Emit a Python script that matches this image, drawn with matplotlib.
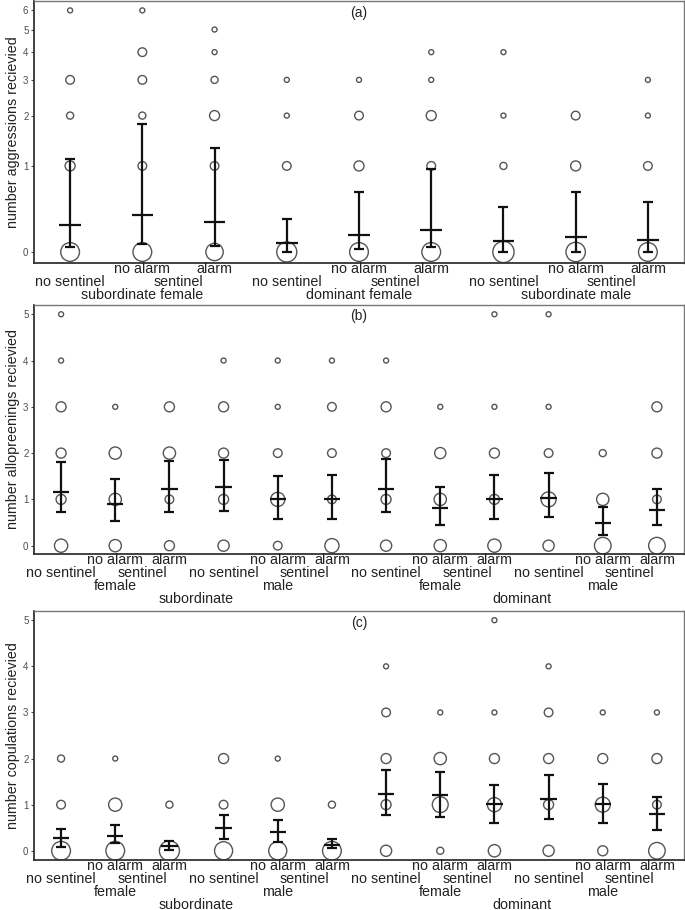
import matplotlib.pyplot as plt
import numpy as np

plt.rcParams['font.family'] = ['Liberation Sans', 'DejaVu Sans']

# (a) aggressions received: 3 classes x (no sentinel, sentinel/no alarm, sentinel/alarm)
agg_classes = ["subordinate female", "dominant female", "subordinate male"]
agg_vals = [[0, 1, 2, 3, 6], [0, 1, 2, 3, 4, 6], [0, 1, 2, 3, 4, 5],
            [0, 1, 2, 3], [0, 1, 2, 3], [0, 1, 2, 3, 4],
            [0, 1, 2, 4], [0, 1, 2], [0, 1, 2, 3]]
agg_counts = [[14, 4, 2, 3, 1], [14, 3, 2, 3, 3, 1], [12, 3, 4, 2, 1, 1],
              [16, 3, 1, 1], [14, 4, 3, 1], [14, 3, 4, 1, 1],
              [18, 2, 1, 1], [15, 4, 3], [14, 3, 1, 1]]
agg_mean = [0.243, 0.347, 0.277, 0.078, 0.144, 0.194, 0.095, 0.126, 0.104]
agg_lo = [0.045, 0.067, 0.052, 0.003, 0.022, 0.039, 0.0, 0.003, 0.0]
agg_hi = [1.11, 1.80, 1.31, 0.305, 0.626, 0.957, 0.44, 0.626, 0.50]

# (b) allopreenings received: subordinate/dominant x female/male x treatment
sex_labels = ["female", "male", "female", "male"]
rank_labels = ["subordinate", "dominant"]
pre_vals = [[0, 1, 2, 3, 4, 5], [0, 1, 2, 3], [0, 1, 2, 3],
            [0, 1, 2, 3, 4], [0, 1, 2, 3, 4], [0, 1, 2, 3, 4],
            [0, 1, 2, 3, 4], [0, 1, 2, 3], [0, 1, 2, 3, 5],
            [0, 1, 2, 3, 5], [0, 1, 2], [0, 1, 2, 3]]
pre_counts = [[7, 4, 4, 4, 1, 1], [6, 6, 6, 1], [4, 3, 6, 4],
              [5, 4, 4, 4, 1], [3, 8, 3, 1, 1], [8, 3, 3, 3, 1],
              [5, 4, 3, 4, 1], [6, 6, 5, 1], [7, 4, 4, 1, 1],
              [5, 9, 3, 1, 1], [11, 6, 2], [11, 3, 4, 4]]
pre_mean = [1.17, 0.91, 1.22, 1.26, 1.00, 1.01, 1.22, 0.81, 1.01, 1.02, 0.48, 0.78]
pre_lo = [0.73, 0.53, 0.73, 0.74, 0.58, 0.58, 0.72, 0.44, 0.58, 0.62, 0.22, 0.44]
pre_hi = [1.81, 1.45, 1.84, 1.86, 1.50, 1.52, 1.88, 1.27, 1.52, 1.56, 0.83, 1.23]

# (c) copulations received
cop_vals = [[0, 1, 2], [0, 1, 2], [0, 1],
            [0, 1, 2], [0, 1, 2], [0, 1],
            [0, 1, 2, 3, 4], [0, 1, 2, 3], [0, 1, 2, 3, 5],
            [0, 1, 2, 3, 4], [0, 1, 2, 3], [0, 1, 2, 3]]
cop_counts = [[14, 3, 2], [14, 7, 1], [16, 2],
              [13, 3, 4], [13, 7, 1], [14, 2],
              [5, 4, 4, 3, 1], [2, 10, 6, 1], [6, 8, 4, 1, 1],
              [5, 4, 4, 3, 1], [4, 9, 4, 1], [11, 3, 4, 1]]
cop_mean = [0.27, 0.33, 0.11, 0.50, 0.40, 0.13, 1.23, 1.20, 1.02, 1.13, 1.02, 0.79]
cop_lo = [0.09, 0.16, 0.01, 0.26, 0.18, 0.05, 0.77, 0.74, 0.61, 0.69, 0.61, 0.46]
cop_hi = [0.48, 0.56, 0.22, 0.77, 0.67, 0.26, 1.76, 1.71, 1.42, 1.65, 1.45, 1.16]

TXT = '#222222'


def draw_panel(ax, vals, counts, mean, lo, hi):
    x = np.arange(1, len(vals) + 1)
    mean = np.array(mean)
    for xi, v, n in zip(x, vals, counts):
        ax.scatter(np.full(len(v), xi), v, s=13 * np.array(n), facecolors='none',
                   edgecolors='#555555', linewidths=1.0, zorder=2)
    ax.errorbar(x, mean, yerr=[mean - np.array(lo), np.array(hi) - mean], fmt='none',
                ecolor='#111111', elinewidth=1.6, capsize=3.6, capthick=1.6, zorder=3)
    ax.hlines(mean, x - 0.15, x + 0.15, colors='#111111', linewidth=1.6, zorder=3)
    ax.set_xlim(0.5, len(vals) + 0.5)
    ax.set_xticks([])
    ax.tick_params(axis='y', labelsize=7, labelcolor='#4d4d4d', color='#4d4d4d',
                   length=2.5, width=0.8, pad=1.5)
    for s in ['left', 'bottom']:
        ax.spines[s].set_color('#333333')
        ax.spines[s].set_linewidth(1.3)
    for s in ['top', 'right']:
        ax.spines[s].set_color('#777777')
        ax.spines[s].set_linewidth(1.0)


def label(ax, x, line, text):
    ax.annotate(text, xy=(x, 0), xycoords=('data', 'axes fraction'),
                xytext=(0, -(7.4 + 9.2 * line)), textcoords='offset points',
                ha='center', va='baseline', fontsize=10.3, color=TXT,
                annotation_clip=False)


def add_labels(ax, n_triples, outer):
    for g in range(n_triples):
        base = 3 * g + 1
        label(ax, base, 1, "no sentinel")
        label(ax, base + 1, 0, "no alarm")
        label(ax, base + 2, 0, "alarm")
        label(ax, base + 1.5, 1, "sentinel")
    for level, labs in enumerate(outer):
        span = 3 * n_triples / len(labs)
        for i, lab in enumerate(labs):
            label(ax, 1 + i * span + (span - 1) / 2, 2 + level, lab)


fig = plt.figure(figsize=(6.85, 9.10), dpi=100)
W, H = 685, 910
ax_a = fig.add_axes([34 / W, 1 - 263 / H, 650 / W, 262 / H])
ax_b = fig.add_axes([34 / W, 1 - 554 / H, 650 / W, 249 / H])
ax_c = fig.add_axes([34 / W, 1 - 860 / H, 650 / W, 249 / H])

# panel (a): log(x+1) axis
ax_a.set_yscale('function', functions=(np.log1p, np.expm1))
draw_panel(ax_a, agg_vals, agg_counts, agg_mean, agg_lo, agg_hi)
ax_a.set_ylim(-0.085, 6.55)
ax_a.set_yticks(range(7))
ax_a.set_yticklabels([str(i) for i in range(7)])
ax_a.set_ylabel("number aggressions recievied", fontsize=10.3, color=TXT)
add_labels(ax_a, 3, [agg_classes])

draw_panel(ax_b, pre_vals, pre_counts, pre_mean, pre_lo, pre_hi)
ax_b.set_ylim(-0.18, 5.2)
ax_b.set_yticks(range(6))
ax_b.set_ylabel("number allopreenings recievied", fontsize=10.3, color=TXT)
add_labels(ax_b, 4, [sex_labels, rank_labels])

draw_panel(ax_c, cop_vals, cop_counts, cop_mean, cop_lo, cop_hi)
ax_c.set_ylim(-0.2, 5.2)
ax_c.set_yticks(range(6))
ax_c.set_ylabel("number copulations recievied", fontsize=10.3, color=TXT)
add_labels(ax_c, 4, [sex_labels, rank_labels])

for ax, tag, h in [(ax_a, '(a)', 262), (ax_b, '(b)', 249), (ax_c, '(c)', 249)]:
    ax.yaxis.label.set_va('center')
    ax.yaxis.set_label_coords(-21 / 650, 0.5)
    ax.text(0.5, 1 - 11.5 / h, tag, transform=ax.transAxes, ha='center', va='center',
            fontsize=10, color=TXT)

fig.savefig('out.png', dpi=100)
